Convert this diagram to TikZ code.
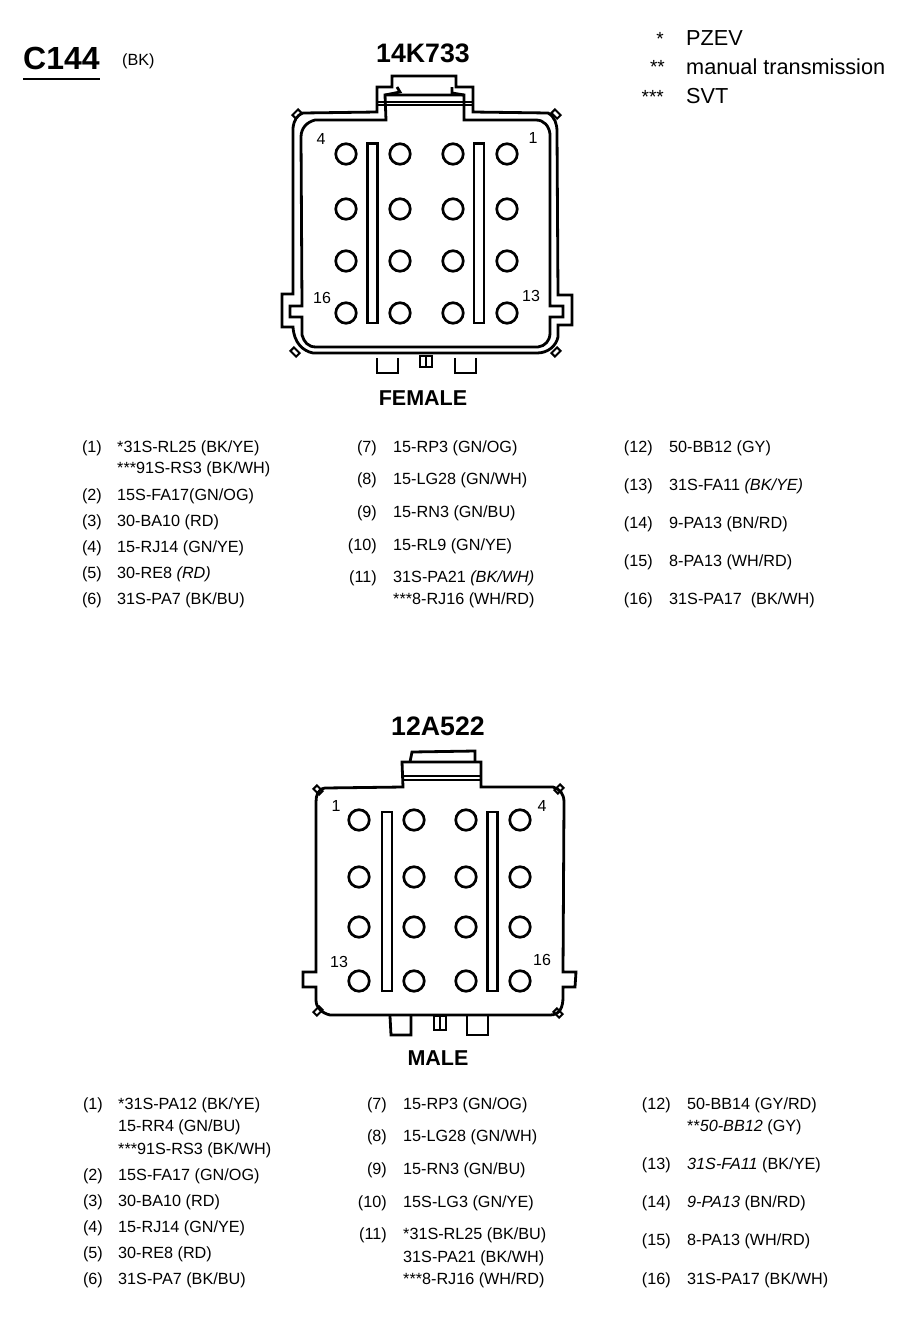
\documentclass[tikz,border=0pt]{standalone}
\usepackage{fontspec}
\setmainfont{Liberation Sans}

\tikzset{
  part/.style={line width=2.8pt, line join=miter},
  thinpart/.style={line width=2pt},
  pinhole/.style={circle, draw, line width=2.7pt, minimum size=20.5pt, inner sep=0pt},
  wire/.style={anchor=base west, inner sep=0pt, yshift=-5.5pt, font=\fontsize{16.2}{16}\selectfont},
  pinno/.style={anchor=base east, inner sep=0pt, yshift=-5.5pt, font=\fontsize{16.2}{16}\selectfont},
  cavity/.style={inner sep=0pt, font=\fontsize{16}{16}\selectfont},
  partno/.style={inner sep=0pt, font=\fontsize{26.7}{26}\bfseries\selectfont},
  gender/.style={inner sep=0pt, font=\fontsize{21.5}{21}\bfseries\selectfont},
  notemark/.style={anchor=base east, inner sep=0pt, font=\fontsize{19}{19}\selectfont},
  note/.style={anchor=base west, inner sep=0pt, font=\fontsize{21.7}{21}\selectfont}
}

\begin{document}
\begin{tikzpicture}[x=1pt, y=-1pt]
\useasboundingbox (0,0) rectangle (902,1344);

% heading
\node [anchor=base west, inner sep=0pt, font=\fontsize{32}{32}\bfseries\selectfont] (title) at (23,69) {C144};
\draw [line width=1.4pt] (title.west |- 0,79) coordinate (ulA) -- (100,79) coordinate (ulB);
\node [anchor=base west, inner sep=0pt, font=\fontsize{16.2}{16}\selectfont] (colour) at (122,65) {(BK)};
\node [notemark] (m1) at (664,45) {*};
\node [notemark] (m2) at (665,73) {**};
\node [notemark] (m3) at (664,103) {***};
\node [note] (n1) at (686,45) {PZEV};
\node [note] (n2) at (686,74) {manual transmission};
\node [note] (n3) at (686,103) {SVT};

% female connector
\node [partno] (fpart) at (423,53) {14K733};
\draw [part] (377,112) -- (377,87) -- (392,87) -- (392,76) -- (456,76) -- (456,87) -- (473,87) -- (473,112)
  -- (548,113) .. controls (555,117) and (557,124) .. (557,132) -- (558,295) -- (572,295) -- (572,325) -- (558,325)
  -- (558,337) .. controls (556,346) and (548,353) .. (537,353) -- (313,353)
  .. controls (303,351) and (294,343) .. (293,327) -- (282,327) -- (282,294) -- (293,294) -- (293,128)
  .. controls (294,120) and (297,115) .. (303,113) -- cycle;
\draw [part] (385,95) -- (386,120) -- (315,120) .. controls (307,122) and (301,128) .. (301,137) -- (302,306) -- (290,306)
  -- (290,317) -- (302,317) -- (302,335) .. controls (304,342) and (308,347) .. (316,347) -- (538,347)
  .. controls (545,346) and (550,341) .. (550,333) -- (550,317) -- (563,317) -- (563,306) -- (550,306) -- (550,134)
  .. controls (549,126) and (544,120) .. (536,120) -- (464,120) -- (464,95) -- cycle;
\draw [thinpart] (377,102) -- (473,102);
\draw [thinpart] (377,105) -- (473,105);
\draw [part] (397,87) -- (400,92) -- (385,95);
\draw [part] (452,87) -- (452,93) -- (464,95);
\draw [part] (377,358) -- (377,373) -- (398,373) -- (398,358);
\draw [part] (455,358) -- (455,373) -- (476,373) -- (476,358);
\draw [thinpart] (420,356) rectangle (432,367);
\draw [thinpart] (426,356) -- (426,367);
\foreach \cx/\cy/\ang in {297/114/45, 556/114/-45, 295/352/-45, 556/352/45}
  \draw [thinpart, rotate around={\ang:(\cx,\cy)}] (\cx-4,\cy-2.5) rectangle (\cx+4,\cy+2.5);
\foreach \sx in {372.5, 479}
  \draw [part] (\sx-5,143.5) rectangle (\sx+5,323);
\foreach \hx in {346,400,453,507}
  \foreach \hy in {154,209,261,313}
    \node [pinhole] (fh\hx-\hy) at (\hx,\hy) {};
\node [cavity] (fc4) at (321,139) {4};
\node [cavity] (fc1) at (533,138) {1};
\node [cavity] (fc16) at (322,298) {16};
\node [cavity] (fc13) at (531,296) {13};
\node [gender] (fgender) at (423,398) {FEMALE};

% female wires
\foreach \wy/\pn in {447/(1), 495/(2), 521/(3), 547/(4), 573/(5), 599/(6)}
  \node [pinno] (fpa\wy) at (102,\wy) {\pn};
\foreach \wy/\wt in {447/{*31S-RL25 (BK/YE)}, 468/{***91S-RS3 (BK/WH)}, 495/{15S-FA17(GN/OG)}, 521/{30-BA10 (RD)},
    547/{15-RJ14 (GN/YE)}, 573/{30-RE8 \textit{(RD)}}, 599/{31S-PA7 (BK/BU)}}
  \node [wire] (fwa\wy) at (117,\wy) {\wt};
\foreach \wy/\pn in {447/(7), 479/(8), 512/(9), 545/(10), 577/(11)}
  \node [pinno] (fpb\wy) at (377,\wy) {\pn};
\foreach \wy/\wt in {447/{15-RP3 (GN/OG)}, 479/{15-LG28 (GN/WH)}, 512/{15-RN3 (GN/BU)}, 545/{15-RL9 (GN/YE)},
    577/{31S-PA21 \textit{(BK/WH)}}, 599/{***8-RJ16 (WH/RD)}}
  \node [wire] (fwb\wy) at (393,\wy) {\wt};
\foreach \wy/\pn/\wt in {447/(12)/{50-BB12 (GY)}, 485/(13)/{31S-FA11 \textit{(BK/YE)}}, 523/(14)/{9-PA13 (BN/RD)},
    561/(15)/{8-PA13 (WH/RD)}, 599/(16)/{31S-PA17\ \ (BK/WH)}} {
  \node [pinno] (fpc\wy) at (653,\wy) {\pn};
  \node [wire] (fwc\wy) at (669,\wy) {\wt};
}

% male connector
\node [partno] (mpart) at (438,726) {12A522};
\draw [part] (403,787) -- (402,762) -- (481,762) -- (481,787) -- (553,787)
  .. controls (560,789) and (564,794) .. (564,802) -- (563,972) -- (576,972) -- (575,987) -- (563,987) -- (563,997)
  .. controls (563,1007) and (560,1015) .. (550,1015) -- (330,1015)
  .. controls (322,1013) and (316,1008) .. (316,1000) -- (316,987) -- (303,987) -- (303,972) -- (316,972) -- (316,802)
  .. controls (316,795) and (318,789) .. (325,788) -- cycle;
\draw [part] (410,762) -- (412,752) -- (475,751) -- (475,762);
\draw [thinpart] (403,776) -- (481,776);
\draw [thinpart] (403,780) -- (481,780);
\draw [part] (390,1016) -- (391,1035) -- (411,1035) -- (411,1016);
\draw [part] (467,1016) -- (467,1035) -- (488,1035) -- (488,1016);
\draw [thinpart] (434,1016) rectangle (446,1030);
\draw [thinpart] (440,1016) -- (440,1030);
\foreach \cx/\cy/\ang in {318/790/-45, 559/789/45, 318/1011/45, 558/1013/-45}
  \draw [thinpart, rotate around={\ang:(\cx,\cy)}] (\cx-4,\cy-2.5) rectangle (\cx+4,\cy+2.5);
\foreach \sx in {387, 492.5}
  \draw [part] (\sx-5,812) rectangle (\sx+5,991);
\foreach \hx in {359,414,466,520}
  \foreach \hy in {820,877,927,981}
    \node [pinhole] (mh\hx-\hy) at (\hx,\hy) {};
\node [cavity] (mc1) at (336,806) {1};
\node [cavity] (mc4) at (542,806) {4};
\node [cavity] (mc13) at (339,962) {13};
\node [cavity] (mc16) at (542,960) {16};
\node [gender] (mgender) at (438,1058) {MALE};

% male wires
\foreach \wy/\pn in {1104/(1), 1175/(2), 1201/(3), 1227/(4), 1253/(5), 1279/(6)}
  \node [pinno] (mpa\wy) at (103,\wy) {\pn};
\foreach \wy/\wt in {1104/{*31S-PA12 (BK/YE)}, 1126/{15-RR4 (GN/BU)}, 1149/{***91S-RS3 (BK/WH)}, 1175/{15S-FA17 (GN/OG)},
    1201/{30-BA10 (RD)}, 1227/{15-RJ14 (GN/YE)}, 1253/{30-RE8 (RD)}, 1279/{31S-PA7 (BK/BU)}}
  \node [wire] (mwa\wy) at (118,\wy) {\wt};
\foreach \wy/\pn in {1104/(7), 1136/(8), 1169/(9), 1202/(10), 1234/(11)}
  \node [pinno] (mpb\wy) at (387,\wy) {\pn};
\foreach \wy/\wt in {1104/{15-RP3 (GN/OG)}, 1136/{15-LG28 (GN/WH)}, 1169/{15-RN3 (GN/BU)}, 1202/{15S-LG3 (GN/YE)},
    1234/{*31S-RL25 (BK/BU)}, 1257/{31S-PA21 (BK/WH)}, 1279/{***8-RJ16 (WH/RD)}}
  \node [wire] (mwb\wy) at (403,\wy) {\wt};
\foreach \wy/\pn in {1104/(12), 1164/(13), 1202/(14), 1240/(15), 1279/(16)}
  \node [pinno] (mpc\wy) at (671,\wy) {\pn};
\foreach \wy/\wt in {1104/{50-BB14 (GY/RD)}, 1126/{**\textit{50-BB12} (GY)}, 1164/{\textit{31S-FA11} (BK/YE)},
    1202/{\textit{9-PA13} (BN/RD)}, 1240/{8-PA13 (WH/RD)}, 1279/{31S-PA17 (BK/WH)}}
  \node [wire] (mwc\wy) at (687,\wy) {\wt};
\end{tikzpicture}
\end{document}
